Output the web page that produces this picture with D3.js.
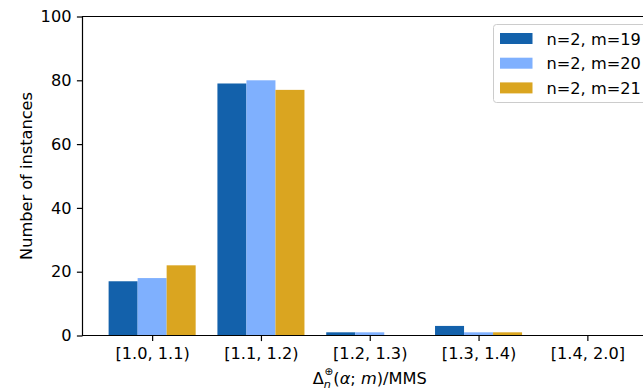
<!DOCTYPE html>
<html>
<head>
<meta charset="utf-8">
<script src="https://cdn.jsdelivr.net/npm/d3@7"></script>
<style>
  body { margin: 0; background: #fff; }
  svg { display: block; font-family: "DejaVu Sans", sans-serif; }
</style>
</head>
<body>
<svg id="chart" width="643" height="392"></svg>
<script>
// Histogram buckets and per-configuration counts
const categories = ["[1.0, 1.1)", "[1.1, 1.2)", "[1.2, 1.3)", "[1.3, 1.4)", "[1.4, 2.0]"];
const seriesNames = ["n=2, m=19", "n=2, m=20", "n=2, m=21"];
const m19 = [17, 79, 1, 3, 0];
const m20 = [18, 80, 1, 1, 0];
const m21 = [22, 77, 0, 1, 0];
const yTicks = [0, 20, 40, 60, 80, 100];
const colors = ["#1361ab", "#7fb0fe", "#daa520"];

const series = [m19, m20, m21];
const FS = 16.2;

const svg = d3.select("#chart");
const margin = { left: 82.5, top: 16.5, bottom: 335.5 };
const plotRight = 657;

// Linear x in category-index units, padded like a default bar plot
const x = d3.scaleLinear().domain([-0.64, 4.64]).range([margin.left, plotRight]);
const y = d3.scaleLinear().domain([0, 100]).range([margin.bottom, margin.top]);
const barW = 0.8 / 3;

// Bars
series.forEach((vals, si) => {
  svg.append("g").selectAll("rect")
    .data(vals)
    .join("rect")
    .attr("x", (d, i) => x(i - 0.4 + si * barW))
    .attr("width", x(barW) - x(0))
    .attr("y", d => y(d))
    .attr("height", d => y(0) - y(d))
    .attr("fill", colors[si]);
});

// Axes
const xAxis = d3.axisBottom(x)
  .tickValues(d3.range(categories.length))
  .tickFormat(i => categories[i])
  .tickSize(5.6).tickPadding(6);
const gx = svg.append("g").attr("transform", `translate(0,${margin.bottom})`).call(xAxis);

const yAxis = d3.axisLeft(y).tickValues(yTicks).tickSize(5.6).tickPadding(5.4);
const gy = svg.append("g").attr("transform", `translate(${margin.left},0)`).call(yAxis);

[gx, gy].forEach(g => {
  g.select(".domain").remove();
  g.selectAll("text").attr("font-size", FS).attr("font-family", "DejaVu Sans, sans-serif").attr("fill", "#000");
  g.selectAll("line").attr("stroke", "#000").attr("stroke-width", 1.2);
});

// Spines (left, top, bottom)
svg.append("path")
  .attr("d", `M${plotRight},${margin.top}H${margin.left}V${margin.bottom}H${plotRight}`)
  .attr("fill", "none").attr("stroke", "#000").attr("stroke-width", 1.2);

// Axis titles
svg.append("text")
  .attr("transform", `translate(32,${(margin.top + margin.bottom) / 2}) rotate(-90)`)
  .attr("text-anchor", "middle")
  .attr("font-size", FS)
  .text("Number of instances");

const xl = svg.append("text")
  .attr("x", (margin.left + plotRight) / 2).attr("y", 384)
  .attr("text-anchor", "middle")
  .attr("font-size", FS);
xl.append("tspan").text("Δ");
xl.append("tspan").attr("font-size", 11.3).attr("dy", 4).attr("font-style", "italic").text("n");
xl.append("tspan").attr("font-size", 10.5).attr("dx", -6.5).attr("dy", -13.5).text("⊕");
xl.append("tspan").attr("dy", 9.5).text("(");
xl.append("tspan").attr("font-style", "italic").text("α");
xl.append("tspan").text("; ");
xl.append("tspan").attr("font-style", "italic").text("m");
xl.append("tspan").text(")/MMS");

// Legend
const lg = svg.append("g").attr("transform", "translate(493.5,24.5)");
lg.append("rect")
  .attr("width", 170).attr("height", 78).attr("rx", 3)
  .attr("fill", "#fff").attr("fill-opacity", 0.8)
  .attr("stroke", "#ccc").attr("stroke-width", 1);
seriesNames.forEach((name, i) => {
  const row = lg.append("g").attr("transform", `translate(0,${8.5 + i * 24.7})`);
  row.append("rect").attr("x", 6.5).attr("y", 0).attr("width", 32.5).attr("height", 11).attr("fill", colors[i]);
  row.append("text").attr("x", 53).attr("y", 11.5).attr("font-size", FS).text(name);
});
</script>
</body>
</html>
